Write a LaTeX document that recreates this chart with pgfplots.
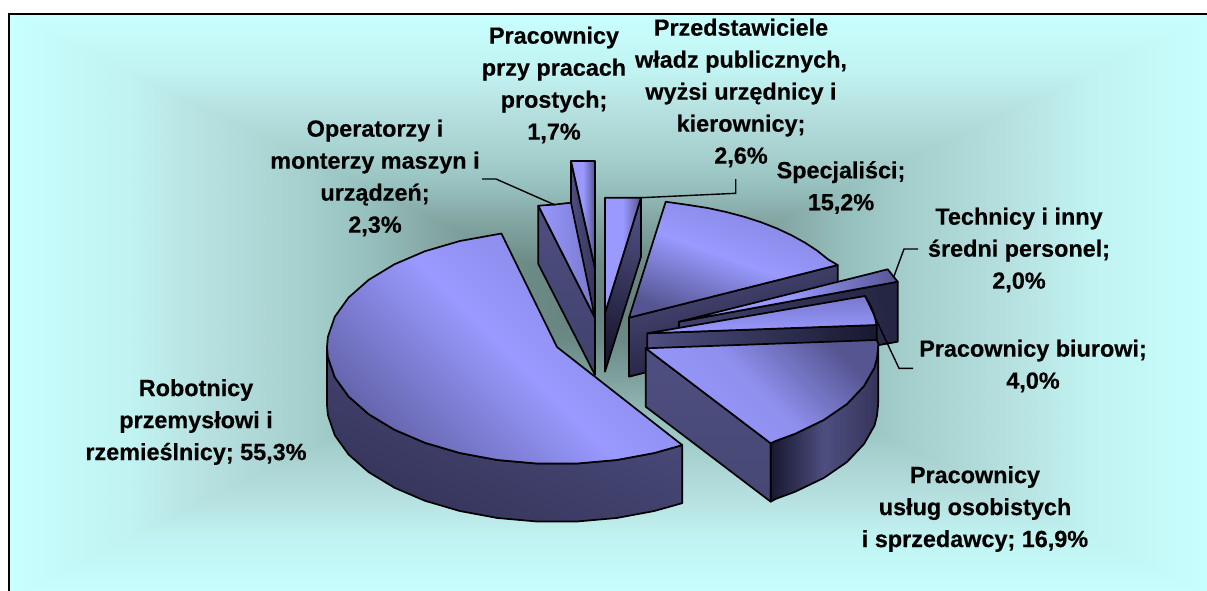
\documentclass[border=0pt]{standalone}
\usepackage{pgfplots}
\pgfplotsset{compat=1.18}
\usepackage{fontspec}
\setmainfont{Liberation Sans}[BoldFeatures={FakeBold=0.4}]
\definecolor{lit}{RGB}{153,153,255}
\definecolor{litd}{RGB}{120,120,205}
\definecolor{litdd}{RGB}{85,85,145}
\definecolor{litb}{RGB}{132,132,222}
\definecolor{litc}{RGB}{100,100,172}
\definecolor{wall}{RGB}{78,78,128}
\definecolor{walld}{RGB}{52,52,90}
\definecolor{walldd}{RGB}{24,24,48}
\tikzset{
 lab/.style={font=\fontsize{23.4}{32}\selectfont\bfseries,align=center,text=black,inner sep=0pt}
}
\pgfplotsset{
 slc/.style={draw=black,line width=1.7pt,line join=round,no markers},
 lead/.style={draw=black,line width=1.4pt,no markers}
}
\begin{document}
\begin{tikzpicture}
\useasboundingbox (0,0) rectangle (1207pt,590pt);
\begin{axis}[
  scale only axis,width=1207pt,height=590pt,at={(0,0)},anchor=south west,
  hide axis,xmin=0,xmax=1207,ymin=0,ymax=590,y dir=reverse,
  point meta min=0,point meta max=100,
  colormap={bg}{rgb255(0pt)=(200,255,255);rgb255(20pt)=(192,243,241);rgb255(35pt)=(181,222,222);rgb255(50pt)=(165,207,205);rgb255(60pt)=(150,192,190);rgb255(70pt)=(134,169,166);rgb255(87pt)=(107,138,134);rgb255(100pt)=(102,127,124)}
]
% background
\addplot[patch,shader=interp,point meta=explicit] coordinates {
 (9,14)[0] (1212,14)[0] (607,302)[100]
 (1212,14)[0] (1212,596)[0] (607,302)[100]
 (1212,596)[0] (9,596)[0] (607,302)[100]
 (9,596)[0] (9,14)[0] (607,302)[100]
};
\addplot[draw=black,line width=2pt,no markers] coordinates {(9,596) (9,14) (1212,14)};

% Pracownicy przy pracach prostych 1,7%
\addplot[slc,top color=wall,bottom color=walld,shading angle=90] coordinates {(571,161) (595,268) (595,325) (571,218)} -- cycle;
\addplot[slc,top color=lit,bottom color=litdd,middle color=lit,shading angle=90] coordinates {(571,161) (595,161) (595,268)} -- cycle;

% Operatorzy 2,3%
\addplot[slc,top color=wall,bottom color=walld!50!wall] coordinates {(538.3,205.7) (595,318) (595,375) (538.3,264)} -- cycle;
\addplot[slc,top color=lit,bottom color=litd,shading angle=90] coordinates {(538.3,205.7) (555,204.5) (571,202.7) (595,318)} -- cycle;

% Robotnicy 55,3%
\addplot[slc,top color=wall,bottom color=walld,shading angle=-25] coordinates {
 (327,347) (327.9,357.2) (334.8,377.3) (348.6,396.5) (368.6,414.1) (394.4,429.7) (425,442.8) (459.8,453) (497.4,460) (537,463.5) (577,463.5) (616.6,460) (654.3,453) (682.3,445.1)
 (682.3,503.1) (654.3,511) (616.6,518) (577,521.5) (537,521.5) (497.4,518) (459.8,511) (425,500.8) (394.4,487.7) (368.6,472.1) (348.6,454.5) (334.8,435.3) (327.9,415.2) (327,405)} -- cycle;
\addplot[slc,top color=litb,bottom color=litc,middle color=lit,shading angle=-45] coordinates {
 (557,347) (501.4,233.5) (459.8,241) (425,251.2) (394.4,264.3) (368.6,279.9) (348.6,297.5) (334.8,316.7) (327.9,336.8) (327,347) (327.9,357.2) (334.8,377.3) (348.6,396.5) (368.6,414.1) (394.4,429.7) (425,442.8) (459.8,453) (497.4,460) (537,463.5) (577,463.5) (616.6,460) (654.3,453) (682.3,445.1)} -- cycle;

% Przedstawiciele 2,6%
\addplot[slc,top color=wall,bottom color=walldd,shading angle=-20] coordinates {(641,197.7) (641,256.7) (605,371.7) (605,313)} -- cycle;
\addplot[slc,top color=lit,bottom color=litdd,middle color=lit,shading angle=90] coordinates {(605,197.7) (641,197.7) (605,313)} -- cycle;

% Specjalisci 15,2%
\addplot[slc,top color=wall,bottom color=walldd,shading angle=15] coordinates {(629,317.7) (837.7,265) (837.7,323) (629,376.7)} -- cycle;
\addplot[slc,top color=litb,bottom color=litdd,middle color=lit,shading angle=-20] coordinates {
 (629,317.7) (665.7,201.7) (688.6,205) (707.7,208) (726.3,212) (744,216.7) (761,222.2) (776.9,228.4) (791.6,235.3) (805.2,242.8) (817.4,250.8) (828.2,259.5) (837.7,265)} -- cycle;

% Technicy 2,0%
\addplot[slc,top color=walldd!75!wall,bottom color=walldd!25!wall,shading angle=-80] coordinates {(679,321.7) (897.7,281.7) (897.7,341.7) (679,381)} -- cycle;
\addplot[slc,top color=lit,bottom color=litdd,middle color=lit,shading angle=90] coordinates {(679,321.7) (887.7,269.3) (897.7,281.7)} -- cycle;

% Biurowi 4,0%
\addplot[slc,top color=wall,bottom color=walldd,shading angle=90] coordinates {(647.3,333.3) (876.7,325) (876.7,383) (647.3,391)} -- cycle;
\addplot[slc,top color=litd,bottom color=lit] coordinates {(647.3,333.3) (865,296) (870.1,304.7) (873.5,312.6) (875.7,320.7) (876.5,325)} -- cycle;

% Uslugi 16,9%
\addplot[slc,top color=wall,bottom color=wall!92!black] coordinates {(645.7,348.3) (770.7,443.3) (770.7,501.7) (645.7,406.7)} -- cycle;
\addplot[slc,top color=walldd,bottom color=walld,middle color=wall,shading angle=90] coordinates {
 (770.7,443.3) (775.7,440.9) (795,433.8) (823.7,420) (847,404) (864,386) (874.5,367.5) (877,357.7) (878,348) (878.2,343.3)
 (878.2,401.3) (878,406) (877,415.7) (874.5,425.5) (864,444) (847,462) (823.7,478) (795,491.8) (775.7,498.9) (770.7,501.7)} -- cycle;
\addplot[slc,top color=litdd,bottom color=lit,middle color=lit!85!litdd,shading angle=-45] coordinates {
 (645.7,348.3) (770.7,443.3) (775.7,440.9) (795,433.8) (823.7,420) (847,404) (864,386) (874.5,367.5) (877,357.7) (878,348) (878.2,343.3) (876.7,340)} -- cycle;

% leader lines
\addplot[lead] coordinates {(482,179) (496,179) (555,205)};
\addplot[lead] coordinates {(641,197.7) (735.7,193.3) (735.7,179)};
\addplot[lead] coordinates {(918,249) (904,249) (893.3,278)};
\addplot[lead] coordinates {(865,296) (899,368.3) (913,368.3)};

% labels
\node[lab] at (axis cs:554,85) {Pracownicy\\przy pracach\\prostych;\\1,7\%};
\node[lab] at (axis cs:741,93) {Przedstawiciele\\władz publicznych,\\wyżsi urzędnicy i\\kierownicy;\\2,6\%};
\node[lab] at (axis cs:841,187.5) {Specjaliści;\\15,2\%};
\node[lab] at (axis cs:1019,250) {Technicy i inny\\średni personel;\\2,0\%};
\node[lab] at (axis cs:1033,366) {Pracownicy biurowi;\\4,0\%};
\node[lab] at (axis cs:975,509) {Pracownicy\\usług osobistych\\i sprzedawcy; 16,9\%};
\node[lab] at (axis cs:196,422) {Robotnicy\\przemysłowi i\\rzemieślnicy; 55,3\%};
\node[lab] at (axis cs:375,178) {Operatorzy i\\monterzy maszyn i\\urządzeń;\\2,3\%};
\end{axis}
\end{tikzpicture}
\end{document}
